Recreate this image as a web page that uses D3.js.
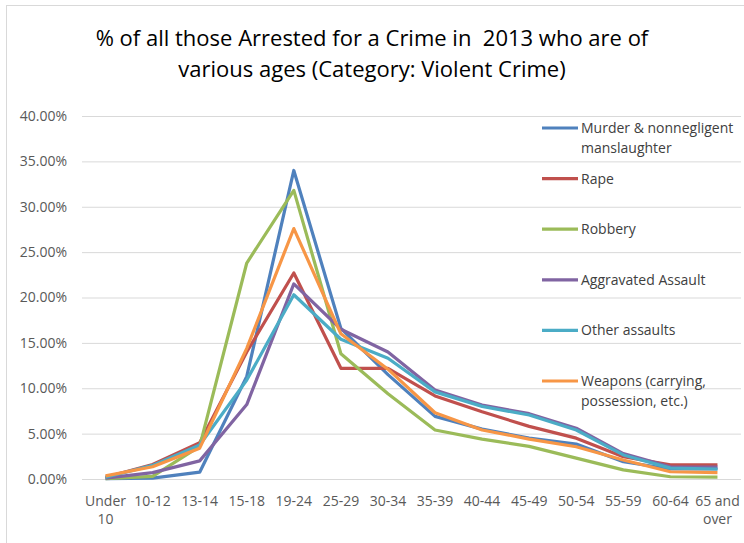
<!DOCTYPE html>
<html>
<head>
<meta charset="utf-8">
<script src="https://cdn.jsdelivr.net/npm/d3@7"></script>
<style>
    body { margin: 0; background: #fff; }
    svg text { font-family: "Liberation Sans Narrow", "Open Sans", sans-serif; }
</style>
</head>
<body>
<div id="wrapper"></div>
<script>
// age groups on the x axis
const ageGroups = ["Under 10", "10-12", "13-14", "15-18", "19-24", "25-29", "30-34",
    "35-39", "40-44", "45-49", "50-54", "55-59", "60-64", "65 and over"];

const seriesNames = ["Murder & nonnegligent\nmanslaughter", "Rape", "Robbery",
    "Aggravated Assault", "Other assaults", "Weapons (carrying,\npossession, etc.)"];

// values in percent
const murder     = [0.05, 0.1, 0.75, 11.3, 34.0, 16.6, 11.5, 6.9, 5.5, 4.5, 3.85, 1.9, 1.1, 1.1];
const rape       = [0.2, 1.6, 4.0, 14.0, 22.7, 12.2, 12.2, 9.15, 7.4, 5.8, 4.5, 2.45, 1.55, 1.55];
const robbery    = [0.05, 0.3, 3.6, 23.8, 31.8, 13.8, 9.4, 5.4, 4.4, 3.6, 2.3, 1.0, 0.25, 0.2];
const aggravated = [0.1, 0.7, 2.0, 8.2, 21.5, 16.5, 14.0, 9.8, 8.15, 7.2, 5.6, 2.8, 1.35, 1.3];
const otherAssault = [0.2, 1.5, 3.75, 10.9, 20.3, 15.4, 13.3, 9.6, 8.0, 7.05, 5.4, 2.65, 1.2, 1.1];
const weapons    = [0.35, 1.35, 3.4, 14.4, 27.6, 16.0, 12.1, 7.3, 5.4, 4.4, 3.55, 2.1, 0.8, 0.7];

const yTicks = [0, 5, 10, 15, 20, 25, 30, 35, 40];

const seriesValues = [murder, rape, robbery, aggravated, otherAssault, weapons];
const colors = ["#4f81bd", "#c0504d", "#9bbb59", "#8064a2", "#4bacc6", "#f79646"];

function buildPlot() {
    var dimension = {
        width: 744,
        height: 543,
        margin: { top: 116, left: 82, bottom: 64, right: 3 }
    };

    const svg = d3.select("#wrapper").append("svg")
        .attr("width", dimension.width)
        .attr("height", dimension.height);

    // chart frame
    svg.append("rect")
        .attr("x", 6.5).attr("y", 5.5)
        .attr("width", 900).attr("height", 700)
        .attr("fill", "none")
        .attr("stroke", "#d9d9d9");

    const xScaler = d3.scalePoint()
        .domain(ageGroups)
        .range([dimension.margin.left, dimension.width - dimension.margin.right])
        .padding(0.5);
    const yScaler = d3.scaleLinear()
        .domain([0, 40])
        .range([dimension.height - dimension.margin.bottom, dimension.margin.top]);

    // gridlines + y labels
    const yAxis = d3.axisLeft(yScaler)
        .tickValues(yTicks)
        .tickSize(-(dimension.width - dimension.margin.left - dimension.margin.right))
        .tickPadding(15)
        .tickFormat(d => d.toFixed(2) + "%");

    const gy = svg.append("g")
        .attr("transform", `translate(${dimension.margin.left},0)`)
        .call(yAxis);
    gy.select(".domain").remove();
    gy.selectAll(".tick line").attr("stroke", "#d9d9d9");
    gy.selectAll(".tick text")
        .attr("fill", "#595959")
        .style("font-size", "14px");

    // x labels (wrapped like the original)
    const xLabels = svg.append("g");
    ageGroups.forEach(function (g) {
        let lines = [g];
        if (g.length > 6) {
            const k = g.lastIndexOf(" ");
            lines = [g.slice(0, k), g.slice(k + 1)];
        }
        const t = xLabels.append("text")
            .attr("x", xScaler(g))
            .attr("y", 506)
            .attr("text-anchor", "middle")
            .attr("fill", "#595959")
            .style("font-size", "14px");
        lines.forEach((l, i) => {
            t.append("tspan").attr("x", xScaler(g)).attr("dy", i == 0 ? 0 : 18).text(l);
        });
    });

    // lines
    const line = d3.line()
        .x((d, i) => xScaler(ageGroups[i]))
        .y(d => yScaler(d));

    svg.selectAll(".series")
        .data(seriesValues)
        .enter()
        .append("path")
        .attr("class", "series")
        .attr("d", line)
        .attr("fill", "none")
        .attr("stroke", (d, i) => colors[i])
        .attr("stroke-width", 3.2)
        .attr("stroke-linejoin", "round");

    // legend
    const legend = svg.append("g");
    seriesNames.forEach(function (name, i) {
        const y = 128 + i * 50.6;
        legend.append("line")
            .attr("x1", 542).attr("x2", 578)
            .attr("y1", y).attr("y2", y)
            .attr("stroke", colors[i])
            .attr("stroke-width", 3.2);
        const t = legend.append("text")
            .attr("x", 581)
            .attr("y", y + 5)
            .attr("fill", "#404040")
            .style("font-size", "14px");
        name.split("\n").forEach((l, j) => {
            t.append("tspan").attr("x", 581).attr("dy", j == 0 ? 0 : 20).text(l);
        });
    });

    // title
    const title = ["% of all those Arrested for a Crime in  2013 who are of",
        "various ages (Category: Violent Crime)"];
    title.forEach(function (l, i) {
        svg.append("text")
            .attr("x", 372)
            .attr("y", 46 + i * 31)
            .attr("text-anchor", "middle")
            .attr("fill", "#000")
            .style("font-size", "22px")
            .style("white-space", "pre")
            .text(l);
    });
}

buildPlot();
</script>
</body>
</html>
